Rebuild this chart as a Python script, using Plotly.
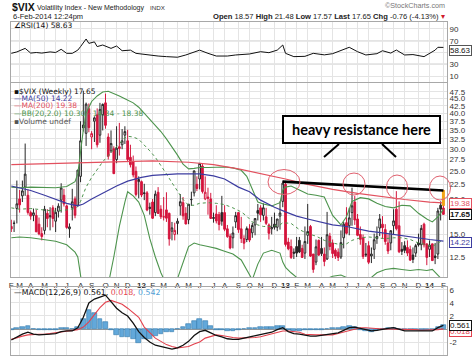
import pandas as pd
import plotly.graph_objects as go

W, H = 474, 356

# ---------------- data (weekly $VIX candles) ----------------
first_week = "2011-02-11"
prior_close = 15.93  # close of the week just before the first visible bar

open_2011 = [16.0, 16.4, 18.5, 20.0, 20.5, 22.0, 20.6, 17.9, 17.5, 17.5,
             16.3, 15.1, 15.5, 17.8, 17.3, 18.6, 16.7, 18.1, 19.8, 20.6,
             18.9, 15.7, 18.6, 20.0, 19.0, 24.0, 35.5, 34.0, 41.5, 33.0,
             37.5, 39.5, 33.5, 39.5, 43.5, 33.0, 29.5, 30.0, 27.5, 30.5,
             31.0, 33.5, 32.0, 28.0, 27.0, 25.0, 23.0]
high_2011 = [16.9, 16.8, 23.2, 21.5, 23.2, 31.3, 21.6, 18.2, 18.5, 18.3,
             17.2, 15.9, 18.9, 18.4, 18.7, 19.0, 18.6, 19.3, 22.7, 21.7,
             19.1, 16.4, 21.7, 20.4, 25.3, 37.5, 48.0, 43.6, 43.3, 34.6,
             39.0, 41.6, 43.5, 43.3, 46.9, 34.0, 34.8, 30.6, 36.0, 37.0,
             35.2, 36.0, 35.0, 31.0, 28.4, 26.0, 24.0]
low_2011 = [15.3, 15.3, 16.4, 17.9, 19.5, 20.5, 17.6, 16.9, 16.7, 15.3,
            14.9, 14.3, 15.0, 15.9, 15.5, 15.9, 15.3, 17.2, 17.9, 18.8,
            15.7, 14.6, 16.8, 17.1, 18.8, 22.9, 34.5, 30.7, 34.3, 29.9,
            31.7, 30.3, 31.5, 34.8, 35.3, 27.5, 29.0, 24.5, 26.7, 28.4,
            29.9, 31.2, 27.0, 25.8, 23.8, 20.4, 20.1]
close_2011 = [15.69, 16.43, 19.22, 19.06, 21.34, 24.44, 17.91, 17.40, 17.87, 15.32,
              15.07, 14.75, 18.40, 17.07, 17.43, 17.07, 17.95, 18.86, 21.85, 19.20,
              15.87, 15.95, 19.53, 17.52, 25.25, 32.00, 36.36, 43.05, 35.59, 33.92,
              38.52, 30.98, 41.25, 42.96, 36.27, 28.24, 31.32, 24.53, 30.16, 30.04,
              32.00, 34.47, 27.52, 26.38, 24.29, 20.73, 23.40]

open_2012 = [23.0, 21.0, 21.0, 18.7, 19.5, 17.9, 21.1, 18.4, 17.3, 18.3,
             17.8, 15.4, 15.0, 16.4, 18.9, 19.4, 17.8, 16.9, 19.9, 21.0,
             22.5, 23.5, 26.1, 20.0, 20.3, 20.0, 17.2, 17.7, 17.6, 17.9,
             17.9, 15.7, 14.8, 14.6, 16.6, 17.9, 15.7, 14.5, 14.4, 15.7,
             15.2, 16.2, 18.2, 18.6, 17.5, 17.3, 16.2, 15.7, 16.3, 15.9,
             17.4, 19.6]
high_2012 = [23.2, 22.6, 21.3, 19.4, 20.0, 21.4, 22.0, 19.0, 20.3, 21.1,
             17.9, 16.6, 16.5, 17.1, 20.8, 20.3, 18.7, 19.2, 21.2, 25.1,
             24.0, 26.7, 26.5, 24.0, 21.9, 21.0, 17.9, 19.0, 18.0, 20.5,
             19.0, 16.2, 15.1, 16.0, 18.0, 18.0, 17.3, 14.9, 16.0, 16.3,
             16.5, 17.1, 19.2, 19.0, 19.3, 18.6, 16.4, 17.3, 17.9, 17.0,
             19.6, 23.2]
low_2012 = [20.3, 19.8, 18.1, 17.6, 17.0, 17.4, 17.7, 17.0, 16.8, 16.6,
            13.7, 14.3, 14.3, 15.0, 17.5, 16.9, 16.3, 16.3, 18.9, 20.4,
            21.3, 21.6, 20.9, 19.8, 17.6, 17.0, 16.5, 16.4, 15.5, 16.1,
            15.4, 14.6, 13.3, 13.4, 15.8, 15.2, 14.0, 13.3, 14.1, 14.1,
            14.6, 14.9, 16.8, 16.6, 16.8, 16.2, 14.4, 15.0, 15.6, 15.4,
            15.6, 18.7]
close_2012 = [20.63, 20.91, 18.28, 18.53, 17.10, 20.79, 17.78, 17.31, 17.29, 17.11,
              14.47, 15.82, 15.50, 16.70, 19.55, 17.44, 16.32, 19.16, 19.89, 25.10,
              21.76, 26.66, 21.23, 21.11, 20.11, 17.08, 17.10, 16.74, 16.27, 16.70,
              15.64, 14.74, 13.45, 15.18, 17.47, 15.60, 14.51, 13.98, 15.73, 14.33,
              16.14, 17.06, 17.81, 17.59, 18.61, 16.41, 15.14, 15.87, 15.90, 17.00,
              17.84, 22.72]

open_2013 = [22.5, 14.1, 13.6, 13.0, 13.6, 14.3, 13.4, 12.9, 14.9, 16.0,
             12.8, 12.0, 14.3, 13.4, 12.8, 12.3, 14.8, 14.0, 13.2, 13.0,
             12.5, 14.6, 16.5, 16.1, 17.9, 19.5, 17.0, 15.0, 14.6, 12.8,
             13.7, 12.6, 13.3, 14.5, 15.8, 16.3, 15.6, 14.0, 14.0, 16.1,
             18.4, 16.1, 13.3, 13.7, 13.5, 13.3, 12.7, 12.9, 14.0, 13.8,
             16.3, 13.9]
high_2013 = [22.8, 14.6, 14.4, 13.4, 14.7, 14.7, 13.8, 16.0, 19.2, 16.2,
             12.8, 14.4, 14.4, 14.7, 13.5, 18.0, 15.2, 14.4, 13.4, 13.4,
             15.5, 16.6, 18.7, 18.6, 21.9, 20.5, 17.7, 16.0, 15.0, 14.0,
             14.2, 13.5, 15.1, 16.0, 17.7, 17.4, 16.3, 15.0, 15.5, 18.4,
             21.3, 19.6, 14.1, 14.2, 14.3, 13.7, 13.5, 13.9, 15.1, 16.2,
             16.5, 13.9]
low_2013 = [13.6, 13.2, 12.3, 12.3, 12.5, 12.9, 12.4, 12.3, 13.9, 12.5,
            11.0, 11.7, 12.6, 12.6, 11.6, 12.2, 13.2, 12.4, 12.3, 12.1,
            12.3, 13.4, 15.0, 14.9, 16.1, 16.2, 14.8, 13.8, 12.3, 12.5,
            11.8, 11.9, 12.3, 13.9, 14.8, 14.5, 13.8, 12.8, 13.2, 15.0,
            15.5, 12.9, 12.7, 12.9, 12.6, 12.1, 11.9, 12.5, 13.6, 13.2,
            13.5, 11.7]
close_2013 = [13.83, 13.36, 12.46, 12.89, 12.90, 13.02, 12.46, 14.17, 15.36, 12.59,
              11.30, 13.57, 12.70, 12.85, 12.06, 14.97, 13.61, 12.85, 12.59, 12.45,
              14.04, 16.30, 15.14, 17.15, 18.90, 16.86, 14.89, 14.42, 12.54, 12.72,
              11.98, 12.81, 14.37, 14.76, 17.01, 15.85, 14.16, 13.12, 15.46, 16.74,
              15.72, 13.04, 13.09, 13.19, 12.90, 12.19, 12.26, 13.70, 13.79, 15.76,
              13.79, 12.46]

open_2014 = [13.3, 13.9, 12.6, 12.8, 19.0, 18.57]
high_2014 = [14.3, 13.9, 14.0, 18.6, 19.6, 21.48]
low_2014 = [12.5, 12.1, 11.8, 12.3, 16.8, 17.57]
close_2014 = [13.76, 12.14, 12.44, 18.14, 18.41, 17.65]

opens = open_2011 + open_2012 + open_2013 + open_2014
highs = high_2011 + high_2012 + high_2013 + high_2014
lows = low_2011 + low_2012 + low_2013 + low_2014
closes = close_2011 + close_2012 + close_2013 + close_2014
n = len(closes)
dates = pd.date_range(first_week, periods=n, freq="7D")

# overlays at selected weeks (week index from the first bar)
ma50_w = [0, 3, 7, 12, 16, 20, 24, 26, 29, 33, 38, 42, 47, 51, 55, 60, 64, 68, 73, 77,
          82, 86, 90, 95, 99, 103, 107, 112, 116, 121, 125, 129, 134, 138, 142, 147, 151, 156]
ma50_v = [22.2, 21.9, 21.4, 20.6, 20.0, 19.3, 18.9, 19.2, 20.0, 21.0, 22.2, 23.1, 23.8, 24.2,
          24.4, 24.5, 24.5, 24.5, 24.1, 23.5, 22.0, 21.2, 19.8, 18.7, 18.0, 17.4, 17.0, 16.5,
          16.2, 16.0, 15.7, 15.4, 15.2, 15.0, 14.8, 14.6, 14.4, 14.22]

ma200_w = [0, 12, 25, 38, 51, 64, 73, 82, 90, 99, 107, 116, 125, 134, 142, 151, 156]
ma200_v = [26.4, 26.6, 26.9, 27.1, 27.2, 26.9, 26.4, 25.5, 24.6, 23.5, 22.5, 21.6, 20.9,
           20.3, 19.9, 19.5, 19.38]

bb_w = [0, 3, 7, 12, 16, 20, 23, 24, 25, 26, 27, 29, 31, 33, 35, 37, 39, 41, 42, 44,
        46, 48, 50, 52, 54, 56, 58, 60, 62, 64, 66, 68, 71, 74, 77, 80, 83, 85, 87, 89,
        91, 94, 97, 98, 99, 101, 104, 107, 110, 113, 116, 119, 121, 123, 126, 129, 132, 135, 138, 141,
        144, 147, 150, 152, 154, 156]
bb_up = [22.0, 21.9, 22.0, 22.0, 21.9, 22.1, 23.0, 24.5, 30.0, 35.0,
         40.0, 44.0, 46.0, 47.5, 47.8, 47.0, 46.0, 45.0, 44.5, 43.5,
         42.0, 40.0, 38.0, 36.5, 34.5, 32.5, 30.5, 28.5, 26.5, 25.5,
         25.6, 25.8, 25.8, 25.8, 25.9, 25.7, 25.2, 24.0, 21.5, 19.5,
         19.2, 18.9, 19.4, 21.5, 22.0, 22.2, 21.5, 20.8, 20.6, 20.3,
         17.5, 16.2, 17.3, 19.6, 20.2, 20.0, 19.3, 18.8, 18.6, 19.0,
         18.9, 17.8, 17.0, 16.6, 17.3, 18.38]
bb_mid = [18.6, 18.4, 18.5, 18.3, 18.1, 18.3, 18.5, 18.8, 19.6, 20.8,
          22.0, 23.8, 25.3, 27.0, 28.4, 29.8, 31.3, 32.8, 33.2, 33.0,
          32.4, 31.0, 29.5, 28.0, 26.3, 24.5, 22.8, 21.3, 19.9, 19.0,
          19.0, 19.3, 19.4, 19.3, 19.1, 18.6, 18.0, 17.4, 16.6, 16.2,
          16.0, 16.0, 16.2, 16.5, 16.5, 16.4, 15.6, 15.1, 14.8, 14.3,
          14.0, 13.8, 13.9, 14.3, 14.6, 14.7, 14.6, 14.5, 14.6, 14.6,
          14.4, 14.0, 13.8, 13.6, 14.0, 14.34]
bb_low = [14.6, 14.7, 14.6, 14.4, 14.2, 13.8, 13.0, 12.5, 10.5, 9.0,
          8.0, 7.0, 7.5, 8.5, 10.0, 12.5, 16.0, 19.5, 21.2, 20.5,
          19.5, 17.5, 14.5, 12.5, 11.0, 10.0, 10.0, 10.5, 12.0, 13.6,
          14.0, 13.8, 13.6, 13.4, 13.1, 12.8, 12.2, 11.2, 10.4, 11.8,
          12.9, 13.2, 12.9, 12.0, 11.5, 11.0, 10.4, 10.2, 10.0, 10.4,
          10.7, 10.8, 10.6, 10.3, 10.2, 10.4, 11.0, 11.3, 11.4, 11.3,
          11.2, 11.3, 11.2, 11.3, 10.8, 10.30]

rsi_w = [0, 2, 5, 7, 9, 11, 14, 16, 18, 20, 22, 24, 25, 27, 28, 30, 31, 33, 36, 38,
         40, 43, 45, 49, 53, 56, 60, 63, 66, 68, 71, 74, 78, 81, 86, 90, 93, 96, 98, 99,
         102, 106, 109, 113, 116, 120, 122, 125, 128, 132, 134, 137, 139, 142, 145, 149, 153, 154, 156]
rsi_v = [48.6, 51, 57, 49, 50, 49, 51, 50, 55.4, 48.6, 48.6, 54, 60, 72.9, 65.5, 68, 60, 62.7, 57, 61,
         53, 54, 48.6, 45.8, 44, 43, 42, 45.8, 51.4, 54, 48.6, 44, 44, 45.8, 47.5, 51.4, 49.7, 54, 62.7, 48.6,
         43, 43.5, 48.6, 46, 48, 55.4, 58.8, 51.4, 45.8, 48, 53, 49, 54.2, 45.8, 46.5, 43, 54, 58.8, 58.63]

macd_w = list(range(0, 157, 2))
macd_v = [-1.7, -1.2, -0.8, -0.5, -0.8, -0.9, -0.9, -0.8, -0.7, -0.4,
          -0.3, -0.3, 0.2, 1.8, 4.0, 4.6, 4.9, 5.2, 4.2, 3.2,
          2.5, 2.0, 0.9, -0.4, -1.3, -2.0, -2.5, -2.7, -2.9, -3.1,
          -2.9, -2.5, -1.9, -1.0, -0.4, -0.2, -0.6, -1.0, -1.2, -1.5,
          -1.6, -1.6, -1.4, -1.2, -1.1, -0.9, -0.7, -0.5, -0.1, 0.2,
          -0.4, -0.7, -0.8, -1.0, -1.1, -1.1, -1.0, -0.9, -0.7, -0.6,
          -0.2, 0.2, 0.3, 0.1, -0.1, -0.3, -0.2, 0.0, 0.1, 0.2,
          0.0, -0.3, -0.3, -0.3, -0.3, -0.3, -0.3, 0.2, 0.561]
signal_v = [-1.6, -1.3, -1.1, -0.9, -0.8, -0.8, -0.8, -0.7, -0.6, -0.5,
            -0.4, -0.3, -0.1, 0.3, 1.1, 2.2, 3.3, 4.1, 4.4, 4.1,
            3.8, 3.2, 2.5, 1.8, 0.3, -0.5, -1.4, -1.9, -2.4, -2.7,
            -2.9, -2.8, -2.7, -2.3, -2.0, -1.4, -1.1, -0.9, -1.0, -1.2,
            -1.3, -1.4, -1.4, -1.4, -1.3, -1.2, -1.0, -0.8, -0.6, -0.3,
            -0.3, -0.4, -0.5, -0.8, -0.9, -0.9, -0.9, -0.9, -0.9, -0.7,
            -0.5, -0.2, 0.0, 0.2, 0.2, 0.1, 0.0, 0.0, 0.0, 0.0,
            0.0, -0.1, -0.1, -0.1, -0.2, -0.2, -0.2, -0.1, 0.018]

month_labels = ["F", "M", "A", "M", "J", "J", "A", "S", "O", "N", "D", "<b>12</b>",
                "F", "M", "A", "M", "J", "J", "A", "S", "O", "N", "D", "<b>13</b>",
                "F", "M", "A", "M", "J", "J", "A", "S", "O", "N", "D", "<b>14</b>", "F"]
price_ticks = [12.5, 15.0, 17.5, 20.0, 22.5, 25.0, 27.5, 30.0, 32.5, 35.0, 37.5, 40.0, 42.5, 45.0, 47.5]
price_tick_labels = ["12.5", "15.0", "17.5", "20.0", "22.5", "25.0", "27.5", "30.0",
                     "32.5", "35.0", "37.5", "40.0", "42.5", "45.0", "47.5"]
rsi_ticks = [10, 30, 50, 70, 90]
macd_ticks = [-2, 0, 2, 4, 6]
macd_tick_labels = ["-2", "0", "2", "4", "6"]

# hand-drawn resistance line, in data terms
resistance_dates = ["2012-12-28", "2014-02-07"]
resistance_vals = [23.0, 21.4]
highlight_low = 18.9  # bottom of the orange highlight on the last bar's wick

# ---------------- styling helpers ----------------
def px(x):
    return x / W


def py(y):
    return 1 - y / H


FONT = "Liberation Sans, Arial, sans-serif"
FONT_V = "DejaVu Sans, Verdana, sans-serif"
RED = "#d4143c"
BLK = "#262626"
BLUE = "#3c3ca0"
MA200C = "#e2505e"
GREEN = "#4d944d"
GRID = "#e4e4e4"
AXL = "#a8a8a8"

s = pd.Series(dates)
month_ticks = list(s.groupby([s.dt.year, s.dt.month]).first())

fig = go.Figure()

# candles: black when close >= previous close, red otherwise; hollow when close > open
prev = [prior_close] + closes[:-1]
up = [i for i in range(n) if closes[i] >= prev[i]]
dn = [i for i in range(n) if closes[i] < prev[i]]


def pick(arr, idx):
    return [arr[i] for i in idx]


for idx, col in ((up, BLK), (dn, RED)):
    fig.add_trace(go.Candlestick(
        x=dates[idx], open=pick(opens, idx), high=pick(highs, idx),
        low=pick(lows, idx), close=pick(closes, idx),
        increasing=dict(line=dict(color=col, width=1), fillcolor="white"),
        decreasing=dict(line=dict(color=col, width=1), fillcolor=col),
        whiskerwidth=0, hoverinfo="skip", showlegend=False, xaxis="x", yaxis="y"))

# overlays
fig.add_trace(go.Scatter(x=dates[bb_w], y=bb_up, mode="lines", line=dict(color=GREEN, width=1.1),
                         hoverinfo="skip", xaxis="x", yaxis="y"))
fig.add_trace(go.Scatter(x=dates[bb_w], y=bb_low, mode="lines", line=dict(color=GREEN, width=1.1),
                         hoverinfo="skip", xaxis="x", yaxis="y"))
fig.add_trace(go.Scatter(x=dates[bb_w], y=bb_mid, mode="lines", line=dict(color=GREEN, width=1, dash="dot"),
                         hoverinfo="skip", xaxis="x", yaxis="y"))
fig.add_trace(go.Scatter(x=dates[ma200_w], y=ma200_v, mode="lines", line=dict(color=MA200C, width=1.2),
                         hoverinfo="skip", xaxis="x", yaxis="y"))
fig.add_trace(go.Scatter(x=dates[ma50_w], y=ma50_v, mode="lines", line=dict(color=BLUE, width=1.2),
                         hoverinfo="skip", xaxis="x", yaxis="y"))

# RSI
fig.add_trace(go.Scatter(x=dates[rsi_w], y=rsi_v, mode="lines", line=dict(color="#111", width=1),
                         hoverinfo="skip", xaxis="x2", yaxis="y2"))

# MACD
hist_v = [m - sg for m, sg in zip(macd_v, signal_v)]
fig.add_trace(go.Bar(x=dates[macd_w], y=hist_v, width=12 * 86400000,
                     marker=dict(color="#62a8da", line=dict(color="#2f78ad", width=0.6)),
                     hoverinfo="skip", xaxis="x3", yaxis="y3"))
fig.add_trace(go.Scatter(x=dates[macd_w], y=signal_v, mode="lines", line=dict(color="#e3414d", width=1.1),
                         hoverinfo="skip", xaxis="x3", yaxis="y3"))
fig.add_trace(go.Scatter(x=dates[macd_w], y=macd_v, mode="lines", line=dict(color="#111", width=1.3),
                         hoverinfo="skip", xaxis="x3", yaxis="y3"))

x_range = ["2011-02-10 05:00", "2014-02-16 01:00"]
xdom = [px(11), px(447)]
common_x = dict(domain=xdom, range=x_range, type="date", tickmode="array", tickvals=month_ticks,
                showgrid=True, gridcolor=GRID, gridwidth=1, showline=True, linecolor=AXL, mirror=True,
                ticks="", ticklen=0, zeroline=False, automargin=False)
tickfont = dict(family=FONT, size=8, color="#333")
common_y = dict(side="right", tickmode="array", tickfont=tickfont, showgrid=True, gridcolor=GRID,
                showline=True, linecolor=AXL, mirror=True, ticks="", ticklen=0, automargin=False)

fig.update_layout(
    width=W, height=H, margin=dict(l=0, r=0, t=0, b=0, pad=0),
    paper_bgcolor="white", plot_bgcolor="white", showlegend=False, bargap=0, boxgap=0.12,
    xaxis=dict(common_x, anchor="y", ticktext=month_labels, showticklabels=True, tickfont=tickfont,
               rangeslider=dict(visible=False)),
    xaxis2=dict(common_x, anchor="y2", matches="x", showticklabels=False),
    xaxis3=dict(common_x, anchor="y3", matches="x", showticklabels=False),
    yaxis=dict(common_y, domain=[py(277), py(83)], type="log", range=[1.0266, 1.7083], anchor="x",
               tickvals=price_ticks, ticktext=price_tick_labels, zeroline=False),
    yaxis2=dict(common_y, domain=[py(82), py(22)], range=[0, 101.7], anchor="x2",
                tickvals=rsi_ticks, zeroline=False),
    yaxis3=dict(common_y, domain=[py(355), py(287)], range=[-4.0, 6.46], anchor="x3",
                tickvals=macd_ticks, ticktext=macd_tick_labels,
                zeroline=True, zerolinecolor="#9a9a9a", zerolinewidth=1),
)

shapes = []
# RSI reference lines
for lvl, dash, colr in ((70, "solid", "#8a8a8a"), (30, "solid", "#8a8a8a"), (50, "dashdot", "#707070")):
    shapes.append(dict(type="line", xref="paper", yref="y2", x0=xdom[0], x1=xdom[1], y0=lvl, y1=lvl,
                       line=dict(color=colr, width=1, dash=dash), layer="below"))
# orange highlight on the last weekly wick
shapes.append(dict(type="line", xref="x", yref="y", x0=dates[-1], x1=dates[-1], y0=highs[-1],
                   y1=highlight_low, line=dict(color="#f2a516", width=3)))
# resistance line
shapes.append(dict(type="line", xref="x", yref="y", x0=resistance_dates[0], x1=resistance_dates[1],
                   y0=resistance_vals[0], y1=resistance_vals[1], line=dict(color="black", width=2.6)))
# hand-drawn circles (pixel centre, radii)
for cx, cy, rx, ry in ((284, 182, 16, 12.5), (354, 184, 11, 11), (397, 187, 10.5, 12), (440, 188, 10.5, 12)):
    shapes.append(dict(type="circle", xref="paper", yref="paper", x0=px(cx - rx), x1=px(cx + rx),
                       y0=py(cy + ry), y1=py(cy - ry), line=dict(color="#e0606e", width=1)))
# callout box and pointers
shapes.append(dict(type="rect", xref="paper", yref="paper", x0=px(283), x1=px(440), y0=py(143), y1=py(116),
                   line=dict(color="black", width=2), fillcolor="white"))
shapes.append(dict(type="line", xref="paper", yref="paper", x0=px(339), y0=py(144), x1=px(324), y1=py(157),
                   line=dict(color="black", width=2)))
shapes.append(dict(type="line", xref="paper", yref="paper", x0=px(382), y0=py(144), x1=px(396), y1=py(157),
                   line=dict(color="black", width=2)))
fig.update_layout(shapes=shapes)

ann = []


def txt(x, y, text, size=8, color="#111", xanchor="left", family=FONT, **kw):
    ann.append(dict(x=px(x), y=py(y), xref="paper", yref="paper", text=text, showarrow=False,
                    xanchor=xanchor, yanchor="middle", font=dict(family=family, size=size, color=color), **kw))


def tag(y, text, border, bold=False, color="#111"):
    t = "<b>%s</b>" % text if bold else text
    ann.append(dict(x=px(449), y=py(y), xref="paper", yref="paper", text=t, showarrow=False,
                    xanchor="left", yanchor="middle", bgcolor="white", bordercolor=border,
                    borderwidth=1, borderpad=0, font=dict(family=FONT, size=8, color=color)))


# header
txt(10, 7, "<b>$VIX</b>", size=10.5, color="#111")
txt(35, 7.5, "Volatility Index - New Methodology", size=7.0, color="#222")
txt(148, 7.5, "INDX", size=6.2, color="#333")
txt(11, 16, "6-Feb-2014 12:24pm", size=7.5, color="#222")
txt(447, 5.5, "\u00a9StockCharts.com", size=7.2, color="#777", xanchor="right")
txt(447, 16, "<b>Open</b> 18.57 <b>High</b> 21.48 <b>Low</b> 17.57 <b>Last</b> 17.65 "
             "<b>Chg</b> -0.76 (-4.13%) <span style='color:#d01c2c'>\u25be</span>",
    size=7.6, color="#222", xanchor="right")

# panel legends
txt(12, 26, "<b>\u2220</b>RSI(14) 58.63", size=7.5, family=FONT_V)
txt(12, 92, "\u25aa$VIX (Weekly) 17.65", size=7.5, family=FONT_V, color="#111")
txt(12, 99, "\u2014MA(50) 14.22", size=7.5, family=FONT_V, color=BLUE)
txt(12, 106, "\u2014MA(200) 19.38", size=7.5, family=FONT_V, color=MA200C)
txt(12, 113.5, "\u2014BB(20,2.0) 10.30 - 14.34 - 18.38", size=7.5, family=FONT_V, color=GREEN)
txt(12, 121, "\u25aaVolume undef", size=7.5, family=FONT_V, color="#555")
txt(12, 292, "\u2014MACD(12,26,9) 0.561, <span style='color:#e3414d'>0.018,</span> "
             "<span style='color:#4f9fd6'>0.542</span>", size=7.8, family=FONT_V, color="#111")

# callout text
txt(361.5, 129.5, "<b>heavy resistance here</b>", size=14.5, family="Lato, Noto Sans, sans-serif",
    color="black", xanchor="center")

# right-hand value tags
tag(50, "58.63", "#555")
tag(209, "18.38", GREEN)
tag(203.5, "19.38", MA200C, color=MA200C)
tag(214.5, "17.65", "#111", bold=True)
tag(242.5, "14.22", BLUE, color=BLUE)
tag(329, "0.542", "#4f9fd6")
tag(331.5, "0.018", "#e3414d", color="#e3414d")
tag(325, "0.561", "#111")

fig.update_layout(annotations=ann)
fig.write_html("out.html", config={"displayModeBar": False},
               post_script="document.body.style.margin='0';document.body.style.padding='0';")
